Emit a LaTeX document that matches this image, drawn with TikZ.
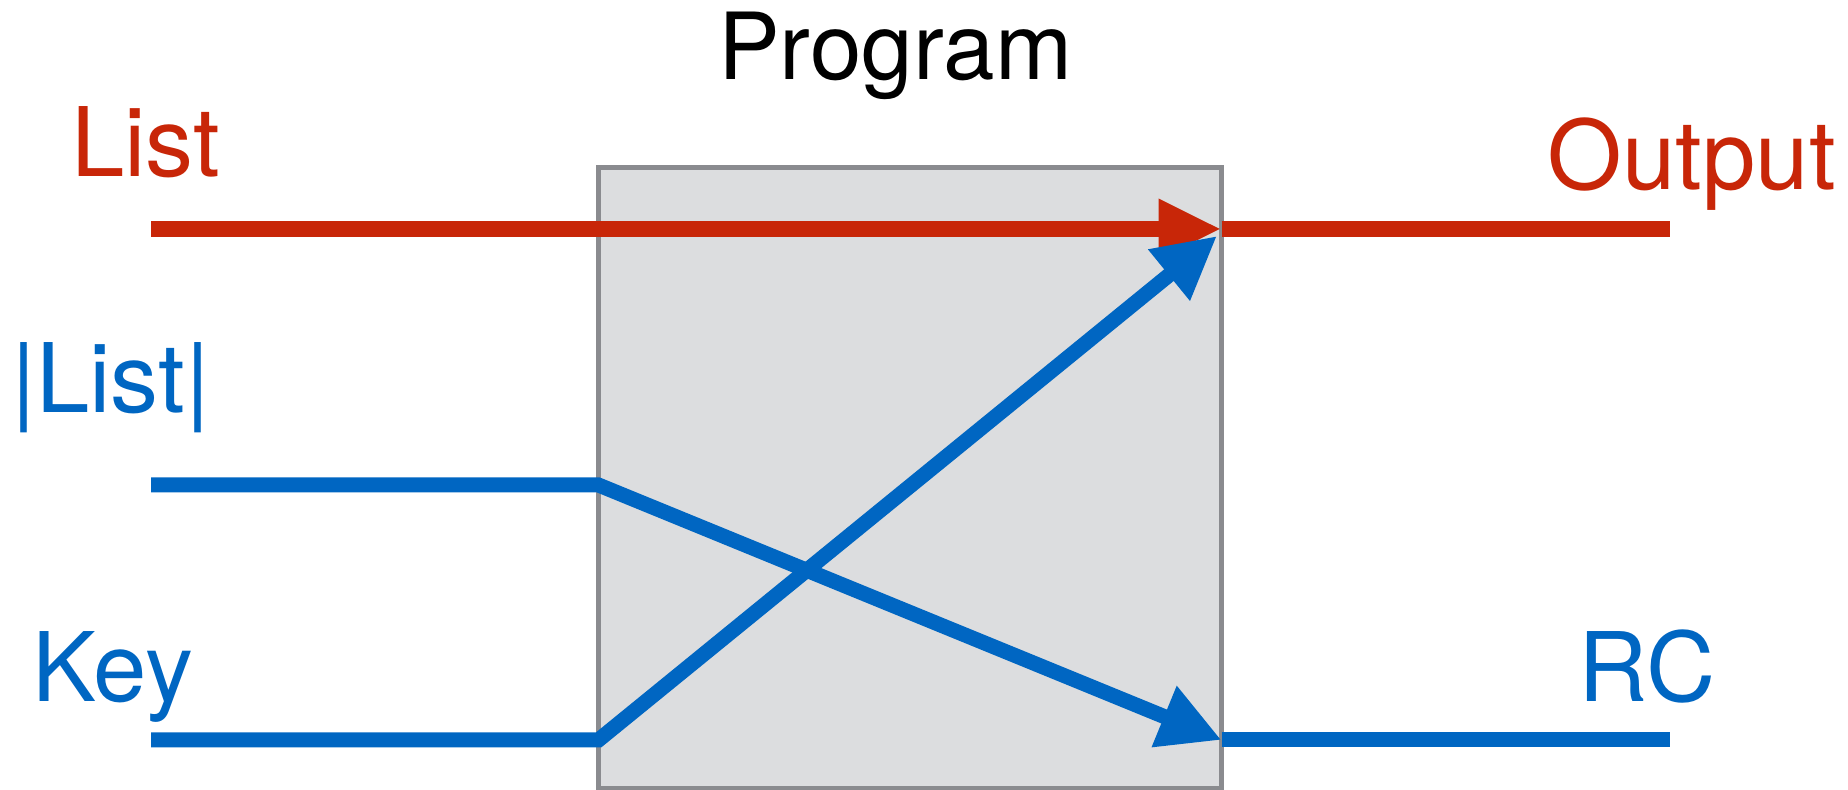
\documentclass[tikz,border=0pt]{standalone}
\usepackage{fontspec}
\setmainfont{TeX Gyre Heros}
\usetikzlibrary{arrows.meta}
\definecolor{sigred}{RGB}{200,38,8}
\definecolor{sigblue}{RGB}{0,102,194}
\definecolor{boxfill}{RGB}{220,221,223}
\definecolor{boxline}{RGB}{138,139,143}
\begin{document}
\begin{tikzpicture}[x=0.5pt,y=-0.5pt,
  progbox/.style={draw=boxline,fill=boxfill,line width=2.5pt,minimum width=311.5pt,minimum height=310pt,inner sep=0pt,outer sep=0pt},
  redline/.style={draw=sigred,line width=8pt,line cap=butt},
  blueline/.style={draw=sigblue,line width=7.5pt,line cap=butt,line join=miter},
  redtip/.style={-{Triangle[length=31.5pt,width=28pt]}},
  bluetip/.style={-{Triangle[length=31pt,width=31pt]}},
  lbl/.style={inner sep=0pt,outer sep=0pt,font=\fontsize{48}{48}\selectfont},
  title/.style={inner sep=0pt,outer sep=0pt,font=\fontsize{46.3}{46.3}\selectfont}]
\useasboundingbox (0,0) rectangle (1848,790);
\node[progbox] (prog) at (910,478) {};
\coordinate (listIn) at (151,229);
\coordinate (lenIn) at (151,485);
\coordinate (keyIn) at (151,740);
\coordinate (listOut) at (1670,229);
\coordinate (rcOut) at (1670,740);
\coordinate (upTip) at (1217,236);
% red List -> Output
\draw[redline] (listIn) -- (prog.west |- listIn);
\draw[redline,redtip] (prog.west |- listIn) -- (prog.east |- listIn);
\draw[redline] (prog.east |- listIn) -- (listOut);
% |List| -> RC
\draw[blueline,bluetip] (lenIn) -- (prog.west |- lenIn) -- (prog.east |- keyIn);
\draw[blueline] (prog.east |- keyIn) -- (rcOut);
% Key -> Output
\draw[blueline,bluetip] (keyIn) -- (prog.west |- keyIn) -- (upTip);
% labels
\node[title,anchor=base west] (ttl) at (718,80) {Program};
\node[lbl,anchor=base west,text=sigred] (lList) at (71,177) {List};
\node[lbl,anchor=base,text=sigblue] (lLen) at (110.5,413) {|List|};
\node[lbl,anchor=base,text=sigblue] (lKey) at (113,702) {Key};
\node[lbl,anchor=base east,text=sigred] (lOut) at (1836,190) {Output};
\node[lbl,anchor=base east,text=sigblue] (lRC) at (1716,702) {RC};
\end{tikzpicture}
\end{document}
